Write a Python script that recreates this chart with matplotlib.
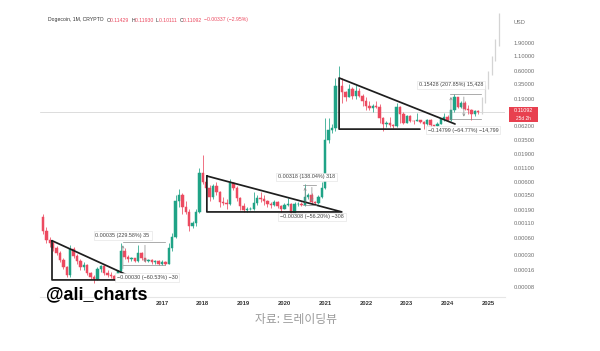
import numpy as np
import matplotlib
matplotlib.use('Agg')
import matplotlib.pyplot as plt
from matplotlib.patches import Rectangle
from matplotlib.ticker import NullLocator

# ===== DATA: Dogecoin monthly candles, Feb 2014 .. Oct 2024 =====
first_month = 1   # months counted from Jan 2014

opens = [0.00145, 0.00080, 0.00055, 0.00050, 0.00040, 0.00033, 0.00024, 0.00018, 0.00013, 0.00038, 0.00029,
         0.00023, 0.00018, 0.00020, 0.00014, 0.00012, 0.00011, 0.00017, 0.00019, 0.00014, 0.00013, 0.000125, 0.00011,
         0.000152, 0.00036, 0.00028, 0.00025, 0.00026, 0.00023, 0.00032, 0.00026, 0.00023, 0.00024, 0.00022, 0.00023,
         0.00021, 0.00022, 0.00021, 0.00040, 0.00064, 0.0028, 0.0036, 0.0022, 0.0018, 0.0010, 0.0011, 0.0018,
         0.0090, 0.0062, 0.0048, 0.0033, 0.0052, 0.0040, 0.0027, 0.0026, 0.0025, 0.0058, 0.0047, 0.0031,
         0.0023, 0.0019, 0.0020, 0.0020, 0.0026, 0.0032, 0.0030, 0.0028, 0.0025, 0.0024, 0.0027, 0.0023,
         0.0020, 0.0024, 0.0025, 0.0017, 0.0025, 0.0025, 0.0024, 0.0033, 0.0035, 0.0027, 0.0026, 0.0033,
         0.0047, 0.034, 0.053, 0.057, 0.32, 0.32, 0.25, 0.20, 0.28, 0.21, 0.26, 0.21,
         0.17, 0.14, 0.13, 0.14, 0.135, 0.085, 0.066, 0.069, 0.063, 0.061, 0.135, 0.10,
         0.070, 0.092, 0.076, 0.075, 0.079, 0.072, 0.067, 0.078, 0.063, 0.062, 0.068, 0.081,
         0.090, 0.079, 0.117, 0.200, 0.136, 0.16, 0.125, 0.120, 0.1006, 0.11429]
highs = [0.00165, 0.00095, 0.00062, 0.00053, 0.00044, 0.00035, 0.00026, 0.00019, 0.00046, 0.00041, 0.00031,
         0.00025, 0.00022, 0.00021, 0.00015, 0.00013, 0.00018, 0.00020, 0.00020, 0.00016, 0.00015, 0.00013, 0.00016,
         0.00050, 0.00040, 0.00030, 0.00028, 0.00027, 0.00045, 0.00034, 0.00027, 0.00025, 0.00025, 0.00024, 0.00024,
         0.00024, 0.00023, 0.00050, 0.00075, 0.0035, 0.0045, 0.0038, 0.0028, 0.0020, 0.0012, 0.0020, 0.0110,
         0.0188, 0.0071, 0.0053, 0.0055, 0.0061, 0.0042, 0.0033, 0.0030, 0.0068, 0.0062, 0.0052, 0.0033,
         0.0026, 0.0022, 0.0022, 0.0040, 0.0036, 0.0040, 0.0036, 0.0029, 0.0027, 0.0029, 0.0028, 0.0024,
         0.0026, 0.0031, 0.0026, 0.0027, 0.0027, 0.0027, 0.0055, 0.0038, 0.0038, 0.0028, 0.0035, 0.0060,
         0.087, 0.087, 0.066, 0.45, 0.74, 0.44, 0.26, 0.35, 0.31, 0.33, 0.30, 0.23,
         0.20, 0.17, 0.15, 0.17, 0.15, 0.09, 0.075, 0.088, 0.066, 0.158, 0.14, 0.11,
         0.095, 0.098, 0.080, 0.105, 0.080, 0.075, 0.083, 0.081, 0.065, 0.071, 0.085, 0.107,
         0.095, 0.12, 0.229, 0.207, 0.175, 0.17, 0.146, 0.122, 0.118, 0.1193]
lows = [0.00070, 0.00050, 0.00042, 0.00036, 0.00030, 0.00022, 0.00017, 0.00012, 0.00012, 0.00026, 0.00021,
        0.00016, 0.00016, 0.00013, 0.00011, 0.000095, 0.000105, 0.00015, 0.00013, 0.00012, 0.000115, 0.000105, 0.000108,
        0.00015, 0.00025, 0.00022, 0.00023, 0.00022, 0.00022, 0.00024, 0.00022, 0.00022, 0.00021, 0.00021, 0.00020,
        0.00020, 0.00020, 0.00021, 0.00036, 0.00060, 0.0022, 0.0016, 0.0016, 0.0008, 0.0009, 0.0010, 0.0017,
        0.0055, 0.0037, 0.0028, 0.0030, 0.0036, 0.0022, 0.0024, 0.0020, 0.0024, 0.0043, 0.0028, 0.0019,
        0.0018, 0.0018, 0.0019, 0.0019, 0.0024, 0.0027, 0.0024, 0.0022, 0.0021, 0.0023, 0.0021, 0.0018,
        0.0020, 0.0023, 0.0014, 0.0017, 0.0023, 0.0023, 0.0023, 0.0030, 0.0025, 0.0024, 0.0025, 0.0032,
        0.0046, 0.030, 0.046, 0.050, 0.23, 0.16, 0.17, 0.20, 0.19, 0.19, 0.20, 0.14,
        0.12, 0.12, 0.11, 0.13, 0.07, 0.05, 0.059, 0.060, 0.057, 0.058, 0.070, 0.068,
        0.069, 0.073, 0.066, 0.075, 0.069, 0.055, 0.063, 0.056, 0.058, 0.058, 0.067, 0.077,
        0.076, 0.0745, 0.111, 0.127, 0.13, 0.118, 0.101, 0.080, 0.093, 0.10111]
closes = [0.00080, 0.00055, 0.00050, 0.00040, 0.00033, 0.00024, 0.00018, 0.00013, 0.00038, 0.00029, 0.00023,
          0.00018, 0.00020, 0.00014, 0.00012, 0.00011, 0.00017, 0.00019, 0.00014, 0.00013, 0.000125, 0.00011, 0.000152,
          0.00036, 0.00028, 0.00025, 0.00026, 0.00023, 0.00032, 0.00026, 0.00023, 0.00024, 0.00022, 0.00023, 0.00021,
          0.00022, 0.00021, 0.00040, 0.00064, 0.0028, 0.0036, 0.0022, 0.0018, 0.0010, 0.0011, 0.0018, 0.0090,
          0.0062, 0.0048, 0.0033, 0.0052, 0.0040, 0.0027, 0.0026, 0.0025, 0.0058, 0.0047, 0.0031, 0.0023,
          0.0019, 0.0020, 0.0020, 0.0026, 0.0032, 0.0030, 0.0028, 0.0025, 0.0024, 0.0027, 0.0023, 0.0020,
          0.0024, 0.0025, 0.0017, 0.0025, 0.0025, 0.0024, 0.0033, 0.0035, 0.0027, 0.0026, 0.0033, 0.0047,
          0.034, 0.053, 0.057, 0.32, 0.32, 0.25, 0.20, 0.28, 0.21, 0.26, 0.21, 0.17,
          0.14, 0.13, 0.14, 0.135, 0.085, 0.066, 0.069, 0.063, 0.061, 0.135, 0.10, 0.070,
          0.092, 0.076, 0.075, 0.079, 0.072, 0.067, 0.078, 0.063, 0.062, 0.068, 0.081, 0.090,
          0.079, 0.117, 0.200, 0.136, 0.16, 0.125, 0.120, 0.1006, 0.11429, 0.11092]

# faint projected bars after the last candle
proj_lows = [0.10, 0.16, 0.28, 0.50, 0.90, 1.70]
proj_highs = [0.20, 0.33, 0.60, 1.10, 2.20, 6.50]

years = [2017, 2018, 2019, 2020, 2021, 2022, 2023, 2024, 2025]
price_ticks = [1.9, 1.1, 0.6, 0.35, 0.19, 0.062, 0.035, 0.019, 0.011, 0.006,
               0.0035, 0.0019, 0.0011, 0.0006, 0.0003, 0.00016, 0.00008]
last_price = 0.11092

# drawn pattern lines (month index, price)
tri1 = [(3.65, 0.00054), (3.65, 0.000107), (28.9, 0.000107), (3.65, 0.00054)]
tri2 = [(49.2, 0.0078), (49.2, 0.00177), (88.9, 0.00177), (49.2, 0.0078)]
tri3 = [(122.2, 0.0667), (88.1, 0.446), (88.1, 0.054), (111.9, 0.054)]

# price range tools: (x_up, x_down, x0, x1, base, top, back, label_up, label_down, pos_up, pos_down)
ranges = [
    (24.5, 31.0, 24.5, 36.9, 0.000152, 0.000502, 0.000198,
     "0.00035 (229.58%) 35", "\u22120.00030 (\u221260.53%) \u221230", (24.4, 0.00068), (31.6, 0.00012)),
    (78.1, 80.1, 77.5, 81.3, 0.0023, 0.00548, 0.0024,
     "0.00318 (138.04%) 318", "\u22120.00308 (\u221256.20%) \u2212308", (78.4, 0.0075), (80.1, 0.00144)),
    (121.0, 124.8, 120.7, 129.8, 0.0742, 0.2285, 0.0805,
     "0.15428 (207.85%) 15,428", "\u22120.14799 (\u221264.77%) \u221214,799", (121.0, 0.334), (124.5, 0.052)),
]

# header of the chart
header = [('Dogecoin, 1M, CRYPTO  ', 'dark'),
          ('O', 'dark'), ('0.11429  ', 'red'),
          ('H', 'dark'), ('0.11930  ', 'red'),
          ('L', 'dark'), ('0.10111  ', 'red'),
          ('C', 'dark'), ('0.11092  ', 'red'),
          ('\u22120.00337 (\u22122.95%)', 'red')]

GREEN = '#1fa386'
RED = '#ec4a60'
DARK = '#333333'

plt.rcParams['font.family'] = ['Liberation Sans', 'DejaVu Sans']

fig = plt.figure(figsize=(6, 3.51), dpi=100)
fig.patch.set_facecolor('white')
W, H = 600, 351
ax = fig.add_axes([40 / W, 1 - 297 / H, 465 / W, 285 / H])
ax.set_yscale('log')
ax.set_xlim(0.12, 136.9)
ax.set_ylim(0.0000529, 6.78)
for s in ax.spines.values():
    s.set_visible(False)
ax.axhline(0.0000529, color='#e6e6e6', lw=0.8, clip_on=False)

# candles
idx = np.arange(len(closes)) + first_month
for m, o, h, l, c in zip(idx, opens, highs, lows, closes):
    col = GREEN if c >= o else RED
    ax.vlines(m, l, h, color=col, lw=0.55, zorder=3)
    ax.bar(m, max(o, c) - min(o, c), bottom=min(o, c), width=0.7,
           color=col, edgecolor=col, linewidth=0.35, zorder=3)

pidx = np.arange(len(proj_lows)) + idx[-1] + 1
ax.vlines(pidx, proj_lows, proj_highs, color='#d4d4d4', lw=0.9, zorder=2)

ax.axhline(last_price, color='#cfcfcf', lw=0.5, zorder=1)

# triangles
for tri in (tri1, tri2, tri3):
    xs, ys = zip(*tri)
    ax.plot(xs, ys, color='#1e1e1e', lw=1.25, zorder=4, solid_capstyle='round')

# measurement tools
for xu, xd, x0, x1, base, top, back, lu, ld, pu, pd_ in ranges:
    ax.plot([x0, x1], [top, top], color='#8a8a8a', lw=0.5, zorder=4)
    ax.plot([x0, x1], [back, back], color='#8a8a8a', lw=0.5, zorder=4)
    ax.annotate('', xy=(xu, top), xytext=(xu, base),
                arrowprops=dict(arrowstyle='->', lw=0.5, color='#8a8a8a', mutation_scale=4), zorder=4)
    ax.annotate('', xy=(xd, back), xytext=(xd, top),
                arrowprops=dict(arrowstyle='->', lw=0.5, color='#8a8a8a', mutation_scale=4), zorder=4)
    box = dict(boxstyle='square,pad=0.35', fc='white', ec='#e0e0e0', lw=0.4)
    ax.text(pu[0], pu[1], lu, fontsize=3.9, color='#444444', ha='center', va='center',
            bbox=box, zorder=5, clip_on=False)
    ax.text(pd_[0], pd_[1], ld, fontsize=3.9, color='#444444', ha='center', va='center',
            bbox=box, zorder=5, clip_on=False)

# axes ticks
ax.yaxis.tick_right()
ax.set_yticks(price_ticks)
ax.set_yticklabels([f'{v:.5f}' for v in price_ticks])
ax.yaxis.set_minor_locator(NullLocator())
ax.tick_params(axis='y', length=0, pad=6, labelsize=4.2, labelcolor='#707070')
ax.set_xticks([(y - 2014) * 12 for y in years])
ax.set_xticklabels([str(y) for y in years], fontweight='bold')
ax.tick_params(axis='x', length=0, pad=3, labelsize=4.2, labelcolor=DARK)

# price scale extras
fig.text(514 / W, 1 - 22 / H, 'USD', fontsize=4.1, color='#707070', va='center')
fig.patches.append(Rectangle((509 / W, 1 - 122 / H), 29 / W, 15 / H, transform=fig.transFigure,
                             fc='#e8404f', ec='none'))
fig.text(523.5 / W, 1 - 111 / H, f'{last_price:.5f}', fontsize=3.9, color='white', ha='center', va='center')
fig.text(523.5 / W, 1 - 118 / H, '25d 2h', fontsize=3.4, color='white', ha='center', va='center')

# header, laid out piece by piece
renderer = fig.canvas.get_renderer()
px = 48
for txt, kind in header:
    t = fig.text(px / W, 1 - 20 / H, txt, fontsize=3.7, color=DARK if kind == 'dark' else RED,
                 va='center', ha='left')
    px = t.get_window_extent(renderer).x1

fig.text(46 / W, 1 - 295 / H, '@ali_charts', fontsize=13, fontweight='bold', color='black',
         va='center', ha='left')
fig.text(296 / W, 1 - 320 / H, '자료: 트레이딩뷰', family=['Noto Sans CJK KR', 'DejaVu Sans'],
         style='italic', fontsize=8.5, color='#9a9a9a', ha='center', va='center')

fig.savefig('out.png', dpi=100)
